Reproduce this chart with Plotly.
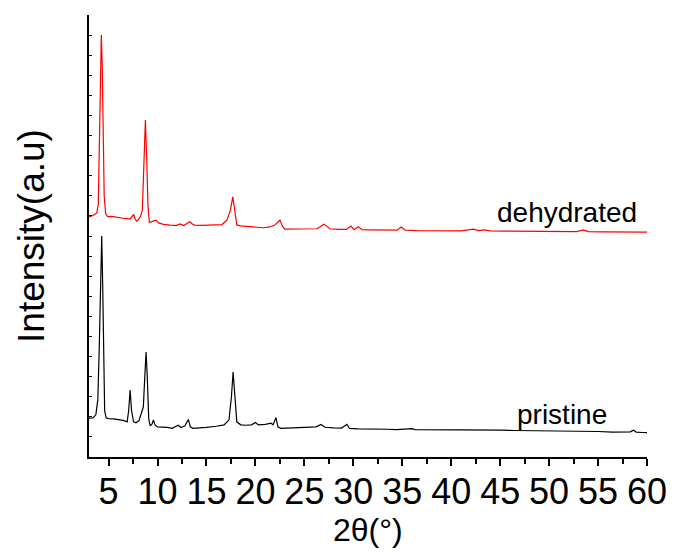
import plotly.graph_objects as go

# ---------------------------------------
# XRD patterns
# ---------------------------------------
pristine_x = [3.0, 3.4, 3.7, 3.9, 4.05, 4.2, 4.3, 4.4, 4.5, 4.6, 4.75, 5.0, 5.5, 6.0,
              6.5, 6.9, 7.05, 7.2, 7.35, 7.55, 7.8, 8.1, 8.4, 8.55, 8.7, 8.83, 8.95,
              9.1, 9.25, 9.45, 9.58, 9.75, 10.0, 10.5, 11.0, 11.5, 11.9, 12.1, 12.4,
              12.8, 13.15, 13.35, 13.6, 14.0, 15.0, 16.0, 16.8, 17.3, 17.55, 17.72,
              17.88, 18.1, 18.5, 19.0, 19.6, 20.0, 20.3, 21.0, 21.6, 21.8, 22.1, 22.3,
              22.6, 23.5, 24.5, 25.5, 26.2, 26.7, 27.1, 28.0, 28.8, 29.35, 29.6, 30.5,
              31.5, 32.5, 33.5, 34.4, 35.0, 35.5, 36.0, 36.3, 37.5, 39.0, 40.5, 42.0,
              43.5, 45.0, 46.5, 48.0, 49.5, 50.5, 51.5, 52.5, 53.5, 55.0, 56.5, 57.5,
              58.3, 58.6, 58.9, 59.5, 60.0]
pristine_y = [1.93, 1.95, 2.1, 2.84, 5.5, 9.5, 11.0, 8.5, 4.0, 2.3, 1.95, 1.91, 1.9, 1.86,
              1.82, 1.75, 2.3, 3.33, 2.3, 1.75, 1.7, 1.8, 2.3, 2.5, 4.0, 5.22, 4.0,
              1.9, 1.55, 1.65, 1.84, 1.6, 1.5, 1.5, 1.47, 1.43, 1.52, 1.58, 1.47,
              1.55, 1.87, 1.5, 1.43, 1.44, 1.47, 1.53, 1.6, 1.85, 3.0, 4.23,
              3.0, 1.75, 1.6, 1.58, 1.6, 1.72, 1.6, 1.62, 1.68, 1.6, 1.96, 1.5,
              1.43, 1.45, 1.45, 1.48, 1.5, 1.62, 1.48, 1.45, 1.44, 1.63, 1.42, 1.4,
              1.4, 1.39, 1.38, 1.36, 1.37, 1.37, 1.41, 1.36, 1.36, 1.35, 1.35, 1.34,
              1.33, 1.34, 1.32, 1.31, 1.3, 1.31, 1.32, 1.3, 1.28, 1.27, 1.24, 1.23,
              1.25, 1.33, 1.24, 1.22, 1.21]

dehydrated_x = [3.0, 3.3, 3.6, 3.8, 3.95, 4.1, 4.2, 4.26, 4.35, 4.45, 4.55, 4.7, 4.9,
                5.3, 5.8, 6.3, 6.8, 7.2, 7.4, 7.57, 7.7, 7.88, 8.1, 8.28, 8.45, 8.6,
                8.76, 8.9, 9.02, 9.17, 9.5, 9.85, 10.1, 10.6, 11.3, 11.9, 12.3, 12.7,
                13.0, 13.3, 13.55, 13.8, 14.5, 15.3, 16.0, 16.6, 17.1, 17.45, 17.69,
                17.9, 18.1, 18.5, 19.2, 20.0, 20.8, 21.5, 22.0, 22.5, 22.75, 23.0,
                24.0, 25.0, 26.3, 27.0, 27.6, 28.5, 29.3, 29.75, 30.1, 30.5, 30.9,
                31.8, 33.0, 34.46, 34.9, 35.3, 36.5, 38.0, 39.5, 41.0, 42.3, 42.8,
                43.3, 44.0, 45.5, 47.0, 48.5, 50.0, 51.5, 52.8, 53.5, 54.0, 55.5,
                57.0, 58.5, 60.0]
dehydrated_y = [11.96, 12.0, 12.08, 12.15, 12.6, 16.5, 20.0, 21.0, 19.5, 15.5, 13.0, 12.1, 11.96,
                11.98, 11.93, 11.9, 11.86, 11.85, 11.95, 12.07, 11.85, 11.74, 11.85, 11.99, 12.3, 14.5,
                16.77, 14.8, 12.5, 11.68, 11.72, 11.79, 11.65, 11.58, 11.54, 11.52, 11.6, 11.52,
                11.62, 11.71, 11.6, 11.54, 11.53, 11.54, 11.55, 11.57, 11.8, 12.3, 12.95,
                12.2, 11.55, 11.5, 11.47, 11.43, 11.41, 11.45, 11.55, 11.79, 11.5, 11.34,
                11.35, 11.33, 11.36, 11.59, 11.36, 11.33, 11.33, 11.49, 11.31, 11.46, 11.31,
                11.3, 11.3, 11.29, 11.45, 11.29, 11.27, 11.26, 11.26, 11.26, 11.34, 11.27,
                11.3, 11.26, 11.24, 11.24, 11.23, 11.24, 11.22, 11.22, 11.3, 11.22, 11.21,
                11.2, 11.2, 11.19]

labels = ["dehydrated", "pristine"]
label_x = [51.8, 51.3]
label_y = [12.15, 2.12]

x_ticks = [5, 10, 15, 20, 25, 30, 35, 40, 45, 50, 55, 60]
x_minor = [7.5, 12.5, 17.5, 22.5, 27.5, 32.5, 37.5, 42.5, 47.5, 52.5, 57.5]

font_family = "Arial, Liberation Sans, sans-serif"

fig = go.Figure()

fig.add_trace(go.Scatter(x=pristine_x, y=pristine_y, mode="lines",
                         line=dict(color="black", width=1.2), showlegend=False))
fig.add_trace(go.Scatter(x=dehydrated_x, y=dehydrated_y, mode="lines",
                         line=dict(color="red", width=1.2), showlegend=False))

for txt, lx, ly in zip(labels, label_x, label_y):
    fig.add_annotation(x=lx, y=ly, text=txt, showarrow=False,
                       font=dict(size=28, color="black", family=font_family))

# axis titles as paper annotations so they sit where the reference has them
fig.add_annotation(x=0.5, y=-0.165, xref="paper", yref="paper",
                   text="2θ(°)", showarrow=False, yanchor="middle",
                   font=dict(size=32, color="black", family=font_family))
fig.add_annotation(x=-0.104, y=0.5, xref="paper", yref="paper",
                   text="Intensity(a.u)", showarrow=False, textangle=-90,
                   xanchor="center", yanchor="middle",
                   font=dict(size=37, color="black", family=font_family))

fig.update_layout(
    width=673,
    height=555,
    margin=dict(l=89, r=26, t=15, b=98),
    plot_bgcolor="white",
    paper_bgcolor="white",
    font=dict(family=font_family, color="black"),
)

fig.update_xaxes(
    range=[3, 60],
    tickmode="array",
    tickvals=x_ticks,
    ticks="outside",
    ticklen=7,
    tickwidth=1.5,
    tickcolor="black",
    minor=dict(tickmode="array", tickvals=x_minor,
               ticks="outside", ticklen=5, tickwidth=1.5, tickcolor="black"),
    tickfont=dict(size=36),
    ticklabelstandoff=-5,
    ticklabeloverflow="allow",
    showline=True,
    linecolor="black",
    linewidth=2,
    showgrid=False,
    zeroline=False,
    automargin=False,
)

fig.update_yaxes(
    range=[0, 22],
    dtick=1,
    ticks="inside",
    ticklen=3,
    tickwidth=1.2,
    tickcolor="black",
    showticklabels=False,
    showline=True,
    linecolor="black",
    linewidth=2,
    showgrid=False,
    zeroline=False,
    automargin=False,
)

# drop the default 8px page margin so the figure fills the window exactly
fig.write_html("out.html",
               config={"displayModeBar": False},
               post_script="document.body.style.margin='0';document.body.style.overflow='hidden';")
